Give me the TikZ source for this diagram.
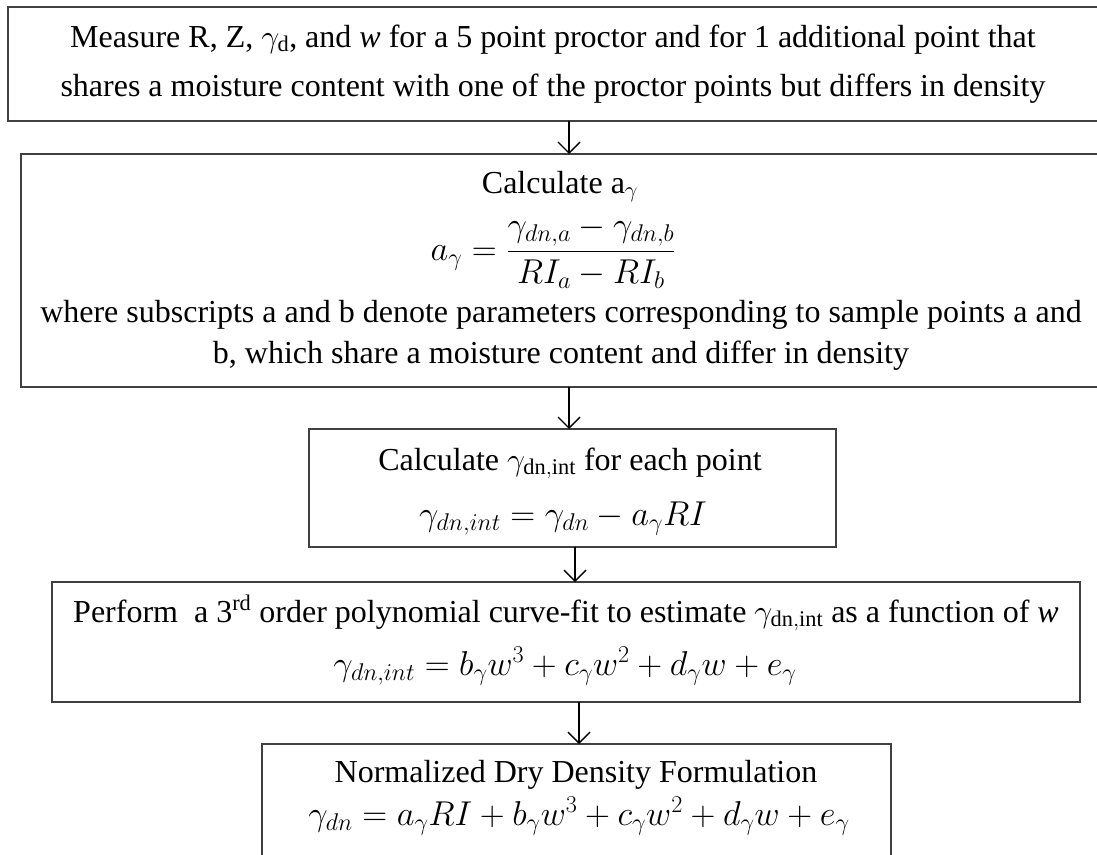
\RequirePackage{fix-cm}
\documentclass[tikz,border=0pt]{standalone}
\usepackage{fontspec}
\usepackage{amsmath}
\setmainfont{Liberation Serif}
\usetikzlibrary{arrows.meta}
\tikzset{
  box/.style={draw=black!75, line width=1.4pt, rectangle, inner sep=0pt, outer sep=0pt},
  txt/.style={anchor=base, inner sep=0pt, font=\fontsize{32}{38}\selectfont},
  eqn/.style={anchor=base, inner sep=0pt, font=\fontsize{34.5}{40}\selectfont},
  flow/.style={draw=black, line width=1.4pt, -{Straight Barb[length=11pt,width=22pt,line width=1.4pt]}}
}
\begin{document}
\begin{tikzpicture}[x=1pt,y=-1pt]
\useasboundingbox (0,0) rectangle (1097,854);
\clip (0,0) rectangle (1097,854);
% boxes
\node[box, minimum width=1102pt, minimum height=114pt] (b1) at (559,64) {};
\node[box, minimum width=1089pt, minimum height=233pt] (b2) at (565.5,270.5) {};
\node[box, minimum width=527pt, minimum height=118pt] (b3) at (572.5,488) {};
\node[box, minimum width=1028pt, minimum height=120pt] (b4) at (566,642) {};
\node[box, minimum width=629pt, minimum height=136pt] (b5) at (576.5,812) {};
% connector columns
\coordinate (c1) at (569,0);
\coordinate (c2) at (569,0);
\coordinate (c3) at (575,0);
\coordinate (c4) at (579,0);
% texts
\node[txt] (t1a) at (553,47) {Measure R, Z, $\gamma_{\mathrm{d}}$, and \textit{w} for a 5 point proctor and for 1 additional point that};
\node[txt] (t1b) at (553,96) {shares a moisture content with one of the proctor points but differs in density};
\node[txt] (t2a) at (560,193) {Calculate a$_{\gamma}$};
\node[eqn] (t2b) at (553,260) {$a_\gamma = \dfrac{\gamma_{dn,a}-\gamma_{dn,b}}{RI_a - RI_b}$};
\node[txt] (t2c) at (561,322) {where subscripts a and b denote parameters corresponding to sample points a and};
\node[txt] (t2d) at (561,363) {b, which share a moisture content and differ in density};
\node[txt] (t3a) at (570,470) {Calculate $\gamma_{\mathrm{dn,int}}$ for each point};
\node[eqn] (t3b) at (563,525) {$\gamma_{dn,int} = \gamma_{dn} - a_\gamma RI$};
\node[txt] (t4a) at (566,622) {Perform\ \ a 3\textsuperscript{rd} order polynomial curve-fit to estimate $\gamma_{\mathrm{dn,int}}$ as a function of \textit{w}};
\node[eqn] (t4b) at (565,675) {$\gamma_{dn,int} = b_\gamma w^3 + c_\gamma w^2 + d_\gamma w + e_\gamma$};
\node[txt] (t5a) at (576,782) {Normalized Dry Density Formulation};
\node[eqn] (t5b) at (579,825) {$\gamma_{dn} = a_\gamma RI + b_\gamma w^3 + c_\gamma w^2 + d_\gamma w + e_\gamma$};
% connectors
\draw[flow] (b1.south -| c1) -- (b2.north -| c1);
\draw[flow] (b2.south -| c2) -- (b3.north -| c2);
\draw[flow] (b3.south -| c3) -- (b4.north -| c3);
\draw[flow] (b4.south -| c4) -- (b5.north -| c4);
\end{tikzpicture}
\end{document}
